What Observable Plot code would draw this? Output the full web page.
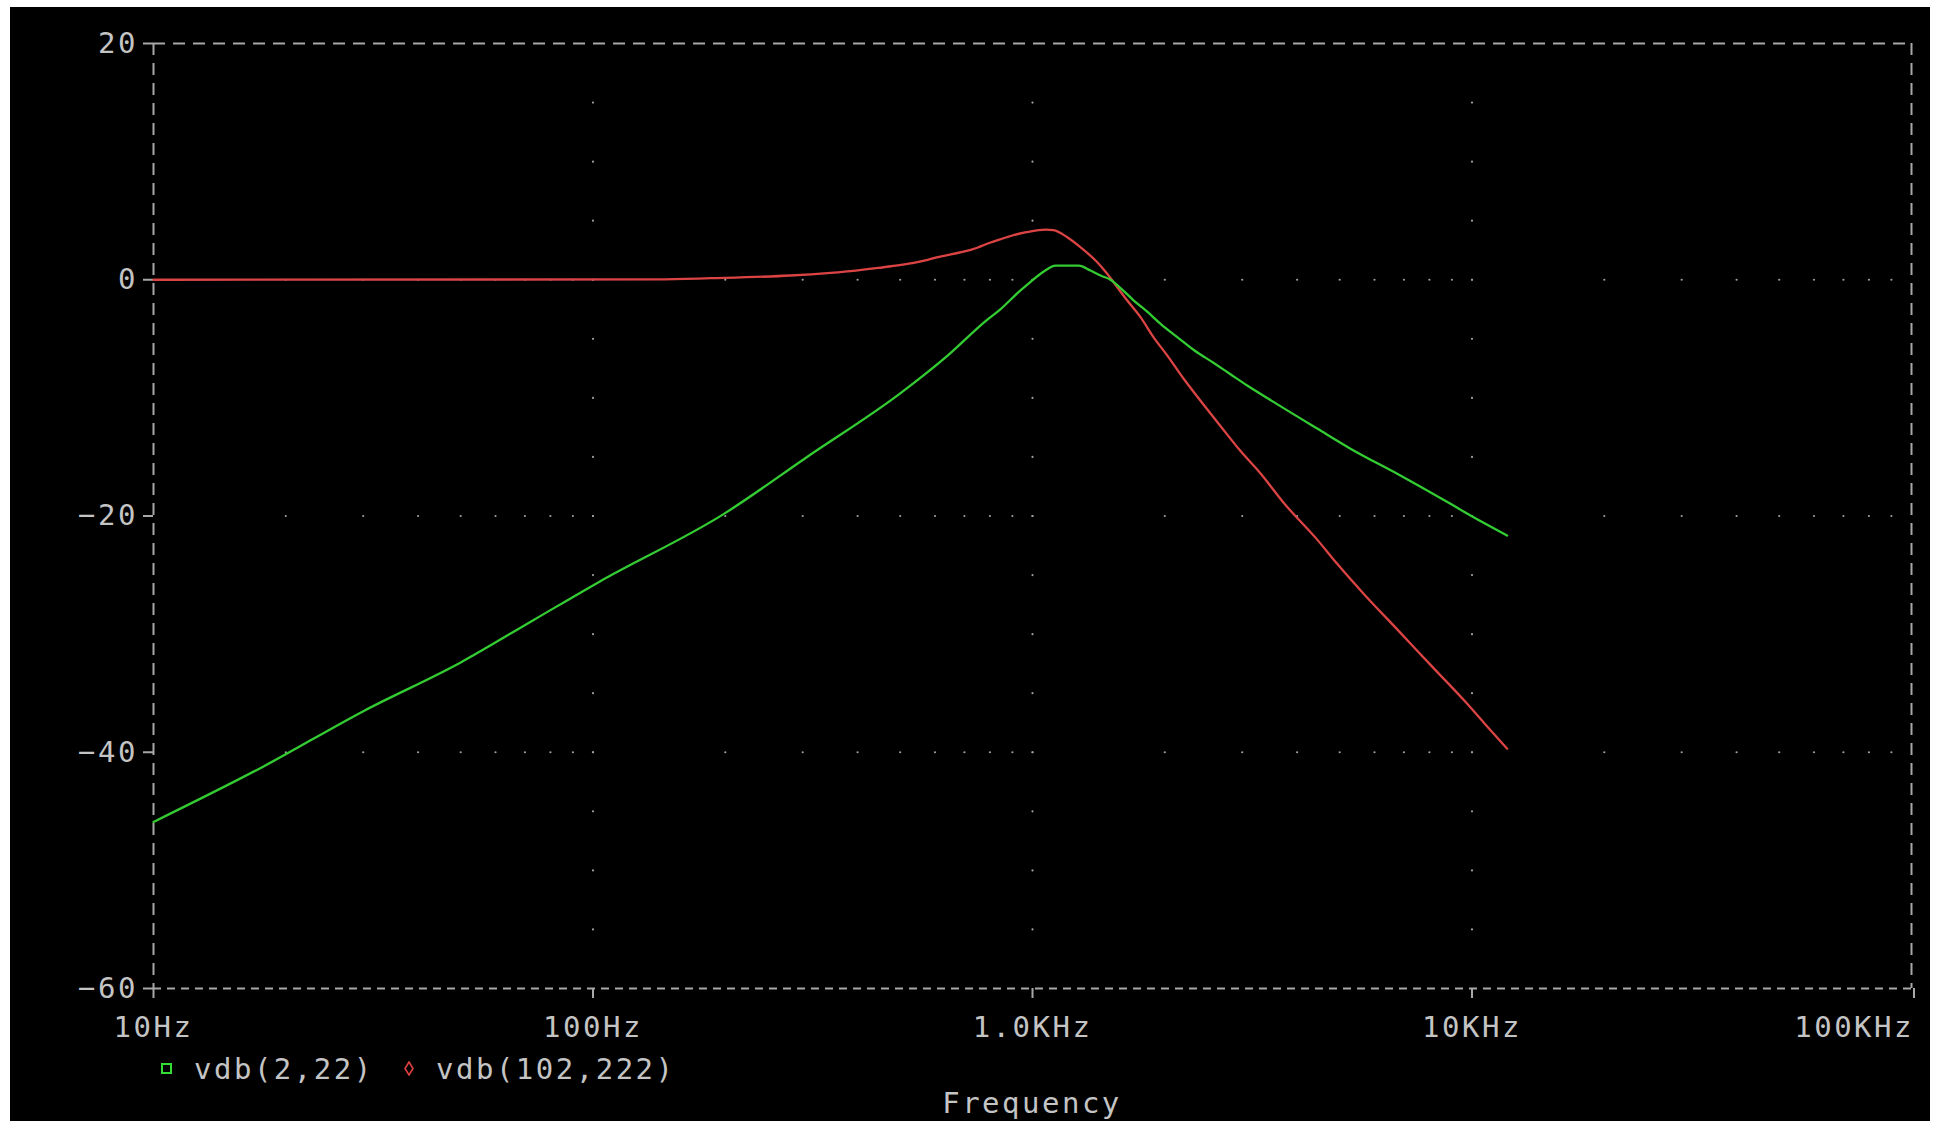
<!DOCTYPE html>
<html><head><meta charset="utf-8">
<script src="https://cdn.jsdelivr.net/npm/d3@7"></script>
<script src="https://cdn.jsdelivr.net/npm/@observablehq/plot@0.6"></script>
<style>
html,body{margin:0;padding:0;background:#fff;width:1939px;height:1121px;overflow:hidden}
#wrap{position:absolute;left:10px;top:7px;width:1920px;height:1114px;background:#000;overflow:hidden;
  font-family:"DejaVu Sans Mono",monospace;font-size:29px;letter-spacing:2.5px;color:#c4c4c4}
#chart svg{display:block}
#chart svg text{letter-spacing:2.5px}
#legend{position:relative;height:36px}
#legend .sw{position:absolute;display:block}
#legend .lt{position:absolute;top:2px;line-height:30px;white-space:pre}
#caption{padding-left:143px;width:1758px;text-align:center;line-height:30px;white-space:pre}
</style></head>
<body>
<div id="wrap"><div id="chart"></div>
<div id="legend"></div>
<div id="caption"></div>
</div>
<script>
// ---- data ----
const greenName = "vdb(2,22)";
const greenFreq = [10, 17.8, 30.1, 50, 73.3, 103, 199, 307, 501, 640, 782, 845, 939, 981, 1061, 1128, 1275, 1355, 1428, 1505, 1586, 1700, 1824, 1956, 2135, 2328, 2585, 2821, 3080, 3450, 4444, 5290, 6871, 8933, 9922, 12023];
const greenDb   = [-45.9, -41.2, -36.5, -32.4, -28.8, -25.6, -19.8, -15.0, -9.6, -6.45, -3.5, -2.5, -0.9, -0.3, 0.7, 1.2, 1.2, 0.78, 0.36, 0, -0.7, -1.76, -2.7, -3.73, -4.86, -5.95, -7.05, -8.0, -8.95, -10.1, -12.6, -14.3, -16.57, -18.97, -19.96, -21.65];

const redName = "vdb(102,222)";
const redFreq = [10, 140, 185, 281, 347, 396, 446, 488, 533, 574, 602, 644, 689, 723, 754, 778, 803, 837, 873, 910, 969, 1071, 1116, 1200, 1286, 1404, 1479, 1559, 1643, 1761, 1888, 2025, 2210, 2454, 2679, 2974, 3303, 3731, 4444, 4935, 5673, 6758, 8187, 9752, 10639, 12023];
const redDb   = [0, 0.03, 0.13, 0.36, 0.59, 0.78, 1.0, 1.2, 1.4, 1.66, 1.88, 2.1, 2.33, 2.53, 2.75, 2.96, 3.15, 3.38, 3.6, 3.8, 4.03, 4.25, 4.2, 3.6, 2.75, 1.48, 0.5, -0.63, -1.76, -3.17, -4.9, -6.4, -8.4, -10.6, -12.4, -14.5, -16.4, -18.9, -22.0, -24.05, -26.6, -29.6, -32.9, -35.9, -37.5, -39.7];

const xTicks = [10, 100, 1000, 10000, 100000];
const xTickLabels = ["10Hz", "100Hz", "1.0KHz", "10KHz", "100KHz"];
const yTicks = [20, 0, -20, -40, -60];
const yTickLabels = ["20", "0", "\u221220", "\u221240", "\u221260"];
const xLabel = "Frequency";
const minorMultiples = [1, 2, 3, 4, 5, 6, 7, 8, 9];
const yDotStep = 5;

// ---- build tables ----
const green = greenFreq.map((f, i) => ({f, db: greenDb[i]}));
const red = redFreq.map((f, i) => ({f, db: redDb[i]}));

// dotted grid: horizontal rows at inner y ticks with dots at log minor positions,
// vertical lines at inner decades with dots every 5 dB
const innerY = yTicks.slice(1, -1);
const innerX = xTicks.slice(1, -1);
const gridDots = [];
for (const db of innerY) {
  for (const dec of xTicks.slice(0, -1)) for (const m of minorMultiples) {
    const f = dec * m;
    if (f > xTicks[0]) gridDots.push({f, db});
  }
}
for (const f of innerX) {
  for (let db = yTicks[yTicks.length - 1] + yDotStep; db < yTicks[0]; db += yDotStep) gridDots.push({f, db});
}

const gray = "#a8a8a8";
const txt = "#c4c4c4";
const FF = "DejaVu Sans Mono";
const FS = 29;

const chart = Plot.plot({
  width: 1920,
  height: 1045,
  marginLeft: 143,
  marginRight: 19,
  marginTop: 36,
  marginBottom: 64,
  style: {background: "#000", color: txt, fontFamily: FF},
  x: {type: "log", domain: [xTicks[0], xTicks[xTicks.length - 1]]},
  y: {domain: [yTicks[yTicks.length - 1], yTicks[0]]},
  marks: [
    Plot.dot(gridDots, {x: "f", y: "db", r: 1.1, fill: "#a0a0a0"}),
    Plot.ruleY([yTicks[0]], {stroke: gray, strokeWidth: 2, strokeDasharray: "12,8"}),
    Plot.ruleY([yTicks[yTicks.length - 1]], {stroke: gray, strokeWidth: 2, strokeDasharray: "8,6"}),
    Plot.ruleX([xTicks[0], xTicks[xTicks.length - 1]], {stroke: gray, strokeWidth: 2, strokeDasharray: "12,8"}),
    Plot.axisY({ticks: yTicks, tickFormat: d => yTickLabels[yTicks.indexOf(d)], tickSize: 10, tickPadding: 5.5,
      stroke: gray, strokeWidth: 2, fill: txt, fontSize: FS, fontFamily: FF, label: null}),
    Plot.axisX({ticks: xTicks.slice(0, -1), tickFormat: d => xTickLabels[xTicks.indexOf(d)], tickSize: 10, tickPadding: 18,
      stroke: gray, strokeWidth: 2, fill: txt, fontSize: FS, fontFamily: FF, label: null}),
    Plot.axisX({ticks: xTicks.slice(-1), tickFormat: d => xTickLabels[xTicks.indexOf(d)], tickSize: 10, tickPadding: 18,
      textAnchor: "end", dx: 2.5,
      stroke: gray, strokeWidth: 2, fill: txt, fontSize: FS, fontFamily: FF, label: null}),
    Plot.line(red, {x: "f", y: "db", stroke: "#dc4444", strokeWidth: 2.3, curve: "monotone-x"}),
    Plot.line(green, {x: "f", y: "db", stroke: "#33cc33", strokeWidth: 2.3, curve: "monotone-x"})
  ]
});
document.getElementById("chart").appendChild(chart);

// legend (below the SVG)
const legend = document.getElementById("legend");
legend.innerHTML =
  `<svg class="sw" style="left:151px;top:11px" width="12" height="12"><rect x="1" y="1" width="9" height="9" fill="none" stroke="#33dd33" stroke-width="2"/></svg>` +
  `<span class="lt" style="left:184px">${greenName}</span>` +
  `<svg class="sw" style="left:393px;top:9px" width="12" height="15"><polygon points="6,1 10,7.5 6,14 2,7.5" fill="none" stroke="#e04040" stroke-width="1.6"/></svg>` +
  `<span class="lt" style="left:426px">${redName}</span>`;
document.getElementById("caption").textContent = xLabel;
</script>
</body></html>
